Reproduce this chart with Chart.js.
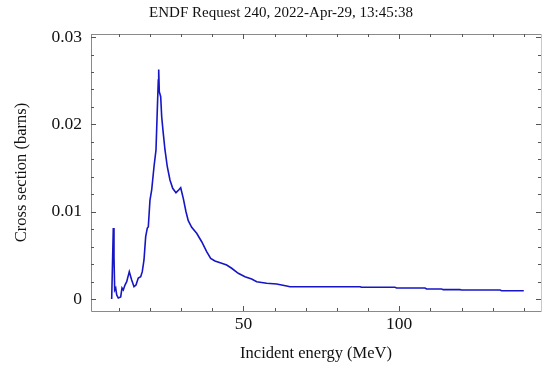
<!DOCTYPE html>
<html>
<head>
<meta charset="utf-8">
<script src="https://cdn.jsdelivr.net/npm/chart.js@4.4.1/dist/chart.umd.min.js"></script>
<style>
  html, body { margin: 0; padding: 0; background: #fff; }
  #wrap { width: 544px; height: 365px; position: relative; }
</style>
</head>
<body>
<div id="wrap"><canvas id="c" width="544" height="365"></canvas></div>
<script>
// ---- data ----
const chartTitle = "ENDF Request 240, 2022-Apr-29, 13:45:38";
const xTitle = "Incident energy (MeV)";
const yTitle = "Cross section (barns)";
const xTickLabels = [50, 100];
const yTickLabels = [0, 0.01, 0.02, 0.03];

const energies = [
  7.7, 8.22, 8.44, 8.66, 8.99, 9.31, 9.82, 10.59, 11.01, 11.42, 11.97, 12.52,
  13.35, 14.12, 14.86, 15.50, 16.24, 17.01, 17.52, 18.07, 18.61, 19.13, 19.45,
  19.99, 20.54, 21.28, 21.92, 22.34, 22.66, 22.79, 22.98, 23.43, 23.75, 24.26,
  24.81, 25.55, 26.41, 27.28, 28.34, 29.20, 29.85, 30.68, 31.55, 32.28, 33.38,
  34.98, 36.59, 38.19, 39.47, 40.85, 43.00, 44.61, 46.21, 48.33, 50.48, 52.63,
  54.24, 56.35, 57.44, 60.65, 63.86, 64.92, 87.39, 87.93, 98.62, 99.17, 108.25,
  108.79, 113.61, 114.12, 119.48, 120.03, 132.32, 132.86, 139.97
];
const crossSections = [
  0.0, 0.00813, 0.0048, 0.00103, 0.00126, 0.00046, 0.00011, 0.00023, 0.00126, 0.00103, 0.0016, 0.00198,
  0.00313, 0.00218, 0.00141, 0.0016, 0.0024, 0.00255, 0.00313, 0.00447, 0.00714, 0.00813, 0.00825,
  0.01134, 0.01249, 0.01515, 0.01707, 0.02165, 0.02509, 0.02629, 0.02375, 0.02317, 0.02088, 0.01898,
  0.01707, 0.01515, 0.01363, 0.01268, 0.01218, 0.01249, 0.01275, 0.01153, 0.0100, 0.00897, 0.00821,
  0.00753, 0.00656, 0.00542, 0.00466, 0.00435, 0.00409, 0.00389, 0.00352, 0.00294, 0.00255, 0.00229,
  0.00198, 0.00187, 0.0018, 0.00172, 0.00149, 0.00141, 0.00141, 0.00134, 0.00134, 0.00126, 0.00126,
  0.00115, 0.00115, 0.00107, 0.00107, 0.00103, 0.00103, 0.00095, 0.00095
];

const points = energies.map((e, i) => ({ x: e, y: crossSections[i] }));
const SERIF = "'Liberation Serif', 'DejaVu Serif', serif";

const framePlugin = {
  id: 'frame',
  afterDraw(chart) {
    const { ctx, chartArea: a, scales } = chart;
    const xs = scales.x, ys = scales.y;
    ctx.save();
    ctx.lineWidth = 1;
    // frame
    ctx.strokeStyle = '#8a8a8a';
    ctx.beginPath();
    ctx.moveTo(a.left + 0.5, a.top + 0.5);
    ctx.lineTo(a.right + 0.5, a.top + 0.5);
    ctx.moveTo(a.left + 0.5, a.top);
    ctx.lineTo(a.left + 0.5, a.bottom + 0.5);
    ctx.lineTo(a.right + 0.5, a.bottom + 0.5);
    ctx.stroke();
    ctx.strokeStyle = '#c8c8c8';
    ctx.beginPath();
    ctx.moveTo(a.right + 0.5, a.top);
    ctx.lineTo(a.right + 0.5, a.bottom);
    ctx.stroke();
    // x ticks (major every 50, minor every 10)
    ctx.strokeStyle = '#555';
    ctx.beginPath();
    for (let v = 10; v <= xs.max; v += 10) {
      const px = Math.round(xs.getPixelForValue(v)) + 0.5;
      const len = (v % 50 === 0) ? 5 : 3;
      ctx.moveTo(px, a.bottom); ctx.lineTo(px, a.bottom - len);
      ctx.moveTo(px, a.top); ctx.lineTo(px, a.top + len);
    }
    // y ticks (major every 0.01, minor every 0.002)
    for (let k = 0; k <= 15; k++) {
      const v = k * 0.002;
      if (v > ys.max) break;
      const py = Math.round(ys.getPixelForValue(v)) + 0.5;
      const len = (k % 5 === 0) ? 5 : 3;
      ctx.moveTo(a.left, py); ctx.lineTo(a.left + len, py);
      ctx.moveTo(a.right, py); ctx.lineTo(a.right - len, py);
    }
    ctx.stroke();
    // chart title
    ctx.fillStyle = '#111';
    ctx.font = "15px " + SERIF;
    ctx.textAlign = 'center';
    ctx.textBaseline = 'middle';
    ctx.fillText(chartTitle, 281, 13);
    ctx.restore();
  }
};

new Chart(document.getElementById('c'), {
  type: 'line',
  data: {
    datasets: [{
      data: points,
      borderColor: 'rgb(22,22,196)',
      borderWidth: 1.6,
      pointRadius: 0,
      tension: 0,
      fill: false
    }]
  },
  options: {
    responsive: false,
    animation: false,
    layout: { padding: { top: 34, right: 3, left: 0, bottom: 0 } },
    plugins: { legend: { display: false }, tooltip: { enabled: false }, title: { display: false } },
    scales: {
      x: {
        type: 'linear',
        min: 1.06,
        max: 145.5,
        afterBuildTicks: (s) => { s.ticks = xTickLabels.map(v => ({ value: v })); },
        afterFit: (s) => { s.height = 54; },
        grid: { display: false, drawTicks: false },
        border: { display: false },
        ticks: {
          color: '#111',
          font: { family: SERIF, size: 17.5 },
          padding: 3,
          maxRotation: 0,
          callback: (v) => String(v)
        },
        title: {
          display: true,
          text: xTitle,
          color: '#111',
          font: { family: SERIF, size: 16.5 },
          padding: { top: 0, bottom: 1 }
        }
      },
      y: {
        type: 'linear',
        min: -0.001375,
        max: 0.030355,
        afterBuildTicks: (s) => { s.ticks = yTickLabels.map(v => ({ value: v })); },
        afterFit: (s) => { s.width = 91; },
        grid: { display: false, drawTicks: false },
        border: { display: false },
        ticks: {
          color: '#111',
          font: { family: SERIF, size: 17.5 },
          padding: 9,
          callback: (v) => (v === 0 ? '0' : String(Math.round(v * 100) / 100))
        },
        title: {
          display: true,
          text: yTitle,
          color: '#111',
          font: { family: SERIF, size: 16.5 },
          padding: { top: 12, bottom: 0 }
        }
      }
    }
  },
  plugins: [framePlugin]
});
</script>
</body>
</html>
